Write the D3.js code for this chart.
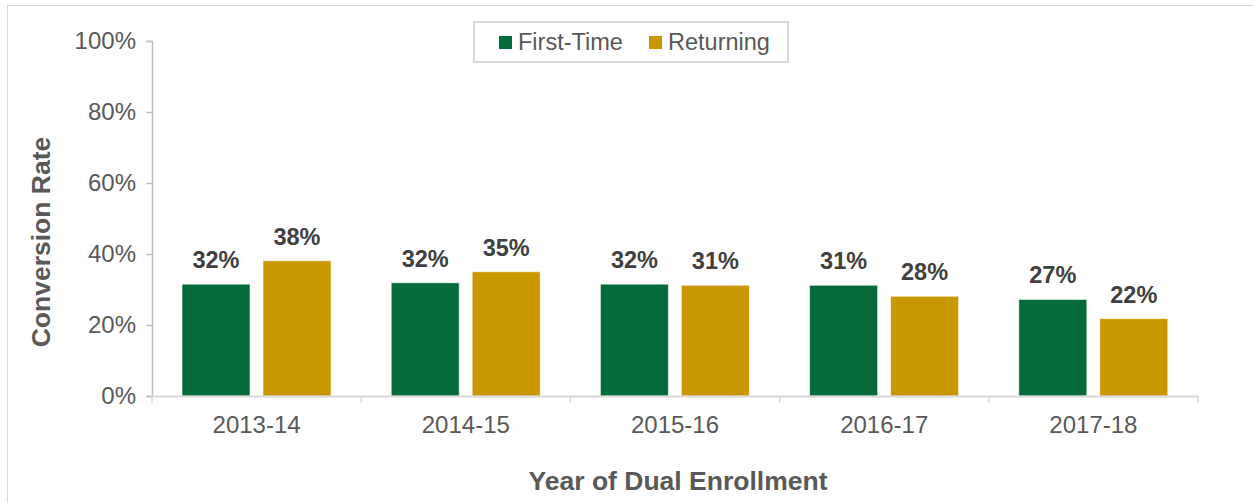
<!DOCTYPE html>
<html>
<head>
  <title>Conversion Rate</title>
  <script src="https://d3js.org/d3.v7.min.js"></script>
  <style>
    body { margin: 0; background: #fff; }
    svg { font-family: "Liberation Sans", Arial, sans-serif; }
  </style>
</head>
<body>
  <svg width="1253" height="503"></svg>

  <script>
    // Datos
    const years = ["2013-14", "2014-15", "2015-16", "2016-17", "2017-18"];
    const series = ["First-Time", "Returning"];
    const firstTime = [31.5, 31.9, 31.5, 31.2, 27.2];
    const returning = [38.1, 35.0, 31.2, 28.1, 21.8];
    const yTicks = [0, 20, 40, 60, 80, 100];
    const colors = ["#066b3a", "#c99700"];

    const svg = d3.select("svg");

    // marco exterior
    svg.append("rect")
      .attr("x", 7.5).attr("y", 5.5)
      .attr("width", 1260).attr("height", 510)
      .attr("fill", "none")
      .attr("stroke", "#d9d9d9");

    const mLeft = 152, mRight = 1198, mTop = 41, mBottom = 396;

    const x0 = d3.scaleBand().domain(years).range([mLeft, mRight]);
    const x1 = d3.scaleBand().domain(series).range([30, 179]).paddingInner(0.16);
    const y = d3.scaleLinear().domain([0, 100]).range([mBottom, mTop]);

    const rows = years.map((yr, i) => ({ year: yr, values: [firstTime[i], returning[i]] }));

    // eje y
    const yAxis = svg.append("g")
      .attr("transform", `translate(${mLeft},0)`)
      .call(d3.axisLeft(y).tickValues(yTicks).tickSize(6).tickPadding(10).tickFormat(d => d + "%"));
    yAxis.select(".domain").attr("stroke", "#bfbfbf").attr("stroke-width", 1.5);
    yAxis.selectAll(".tick line").attr("stroke", "#bfbfbf").attr("stroke-width", 1.5);
    yAxis.selectAll(".tick text")
      .attr("fill", "#595959")
      .style("font-size", "24px");

    // barras
    const groups = svg.selectAll(".grp")
      .data(rows)
      .enter().append("g")
      .attr("class", "grp")
      .attr("transform", d => `translate(${x0(d.year)},0)`);

    groups.selectAll("rect")
      .data(d => d.values.map((v, j) => ({ key: series[j], v: v, j: j })))
      .enter().append("rect")
      .attr("x", d => x1(d.key))
      .attr("y", d => y(d.v))
      .attr("width", x1.bandwidth())
      .attr("height", d => mBottom - y(d.v))
      .attr("fill", d => colors[d.j])
      .attr("stroke", "#ffffff")
      .attr("stroke-opacity", 0.6)
      .attr("stroke-width", 1);

    groups.selectAll(".lbl")
      .data(d => d.values.map((v, j) => ({ key: series[j], v: v })))
      .enter().append("text")
      .attr("class", "lbl")
      .attr("x", d => x1(d.key) + x1.bandwidth() / 2)
      .attr("y", d => y(d.v) - 16)
      .attr("text-anchor", "middle")
      .attr("fill", "#404040")
      .style("font-size", "23.5px")
      .style("font-weight", "bold")
      .text(d => Math.round(d.v) + "%");

    // eje x
    const xAxis = svg.append("g")
      .attr("transform", `translate(0,${mBottom})`)
      .call(d3.axisBottom(x0).tickSize(0).tickPadding(20));
    xAxis.select(".domain").attr("stroke", "#d9d9d9").attr("stroke-width", 2);
    xAxis.selectAll(".tick text")
      .attr("fill", "#595959")
      .style("font-size", "24px");

    // marcas entre categorias
    const bounds = years.map(d => x0(d)).concat([mRight]);
    svg.selectAll(".sep")
      .data(bounds)
      .enter().append("line")
      .attr("x1", d => d).attr("x2", d => d)
      .attr("y1", mBottom).attr("y2", mBottom + 7)
      .attr("stroke", "#d9d9d9")
      .attr("stroke-width", 1.5);

    // titulos de ejes
    svg.append("text")
      .attr("x", 678)
      .attr("y", 490)
      .attr("text-anchor", "middle")
      .attr("fill", "#595959")
      .style("font-size", "26.5px")
      .style("font-weight", "bold")
      .text("Year of Dual Enrollment");

    svg.append("text")
      .attr("transform", "translate(50,242) rotate(-90)")
      .attr("text-anchor", "middle")
      .attr("fill", "#595959")
      .style("font-size", "26.5px")
      .style("font-weight", "bold")
      .text("Conversion Rate");

    // leyenda
    const legend = svg.append("g");
    legend.append("rect")
      .attr("x", 474).attr("y", 22)
      .attr("width", 314).attr("height", 40)
      .attr("fill", "#fff")
      .attr("stroke", "#d9d9d9")
      .attr("stroke-width", 2);
    const legX = [499, 649];
    series.forEach((s, i) => {
      legend.append("rect")
        .attr("x", legX[i]).attr("y", 36)
        .attr("width", 13).attr("height", 13)
        .attr("fill", colors[i]);
      legend.append("text")
        .attr("x", legX[i] + 19).attr("y", 50)
        .attr("fill", "#595959")
        .style("font-size", "23.5px")
        .text(s);
    });
  </script>
</body>
</html>
